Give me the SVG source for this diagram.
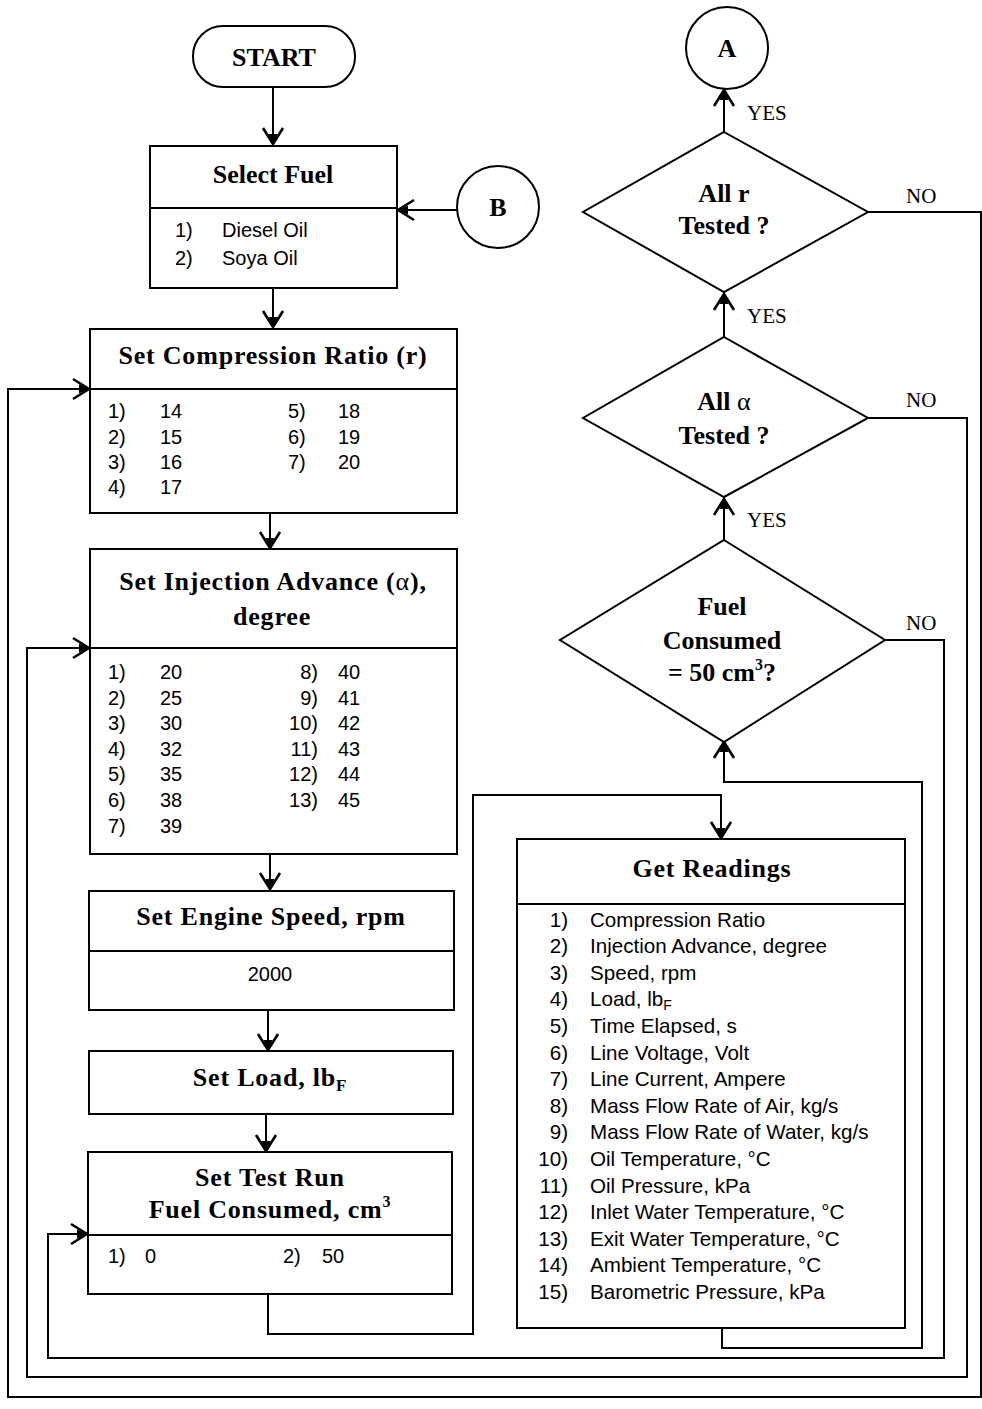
<svg xmlns="http://www.w3.org/2000/svg" width="982" height="1409" viewBox="0 0 982 1409">
<style>
.box{fill:#fff;stroke:#000;stroke-width:2}
.ln{fill:none;stroke:#000;stroke-width:2}
.t{font-family:"Liberation Serif",serif;font-weight:bold;font-size:26px;fill:#000}
.tc{text-anchor:middle}
.i{font-family:"Liberation Sans",sans-serif;font-size:20px;fill:#000}
.gr{font-size:20.6px}
.yn{font-family:"Liberation Serif",serif;font-size:21px;fill:#000}
.e{text-anchor:end}
</style>
<defs>
<marker id="ah" markerUnits="userSpaceOnUse" viewBox="-1 -12 20 24" markerWidth="20" markerHeight="24" refX="17" refY="0" orient="auto">
<path d="M1,-10 L17,0 L1,10" fill="none" stroke="#000" stroke-width="2.6"/>
<path d="M7,-4.5 L17,0 L7,4.5 z" fill="#000"/>
</marker>
</defs>

<g id="connectors">
<path class="ln" d="M273,87 V144" marker-end="url(#ah)"/>
<path class="ln" d="M457,210 H398" marker-end="url(#ah)"/>
<path class="ln" d="M273,288 V327" marker-end="url(#ah)"/>
<path class="ln" d="M270,513 V548" marker-end="url(#ah)"/>
<path class="ln" d="M270,855 V889" marker-end="url(#ah)"/>
<path class="ln" d="M268,1010 V1050" marker-end="url(#ah)"/>
<path class="ln" d="M266,1114 V1151" marker-end="url(#ah)"/>
<path class="ln" d="M268,1294 V1334 H473 V795 H721 V838" marker-end="url(#ah)"/>
<path class="ln" d="M722,1328 V1348 H922 V782 H724 V742" marker-end="url(#ah)"/>
<path class="ln" d="M885,640 H944 V1358 H48 V1234 H87" marker-end="url(#ah)"/>
<path class="ln" d="M868,418 H967 V1377 H27 V648 H89" marker-end="url(#ah)"/>
<path class="ln" d="M868,212 H981 V1397 H8 V389 H89" marker-end="url(#ah)"/>
<path class="ln" d="M724,540 V499" marker-end="url(#ah)"/>
<path class="ln" d="M724,337 V294" marker-end="url(#ah)"/>
<path class="ln" d="M724,132 V90" marker-end="url(#ah)"/>
<text class="yn" x="747" y="120">YES</text>
<text class="yn" x="747" y="323">YES</text>
<text class="yn" x="747" y="527">YES</text>
<text class="yn" x="906" y="203">NO</text>
<text class="yn" x="906" y="407">NO</text>
<text class="yn" x="906" y="630">NO</text>
</g>

<g id="start">
<rect class="box" x="193" y="26" width="162" height="61" rx="30" ry="30"/>
<text class="t tc" x="274" y="66" font-size="28">START</text>
</g>

<g id="select-fuel">
<rect class="box" x="150" y="146" width="247" height="142"/>
<line class="ln" x1="150" y1="208" x2="397" y2="208"/>
<text class="t tc" x="273" y="183">Select Fuel</text>
<text class="i" x="175" y="237">1)</text><text class="i" x="222" y="237">Diesel Oil</text>
<text class="i" x="175" y="265">2)</text><text class="i" x="222" y="265">Soya Oil</text>
</g>

<g id="B">
<circle class="box" cx="498" cy="207" r="41"/>
<text class="t tc" x="498" y="216">B</text>
</g>

<g id="compression-ratio">
<rect class="box" x="90" y="329" width="367" height="184"/>
<line class="ln" x1="90" y1="389" x2="457" y2="389"/>
<text class="t tc" x="273" y="364" letter-spacing="0.8">Set Compression Ratio (r)</text>
<text class="i" x="108" y="418">1)</text><text class="i" x="160" y="418">14</text>
<text class="i" x="108" y="444">2)</text><text class="i" x="160" y="444">15</text>
<text class="i" x="108" y="469">3)</text><text class="i" x="160" y="469">16</text>
<text class="i" x="108" y="494">4)</text><text class="i" x="160" y="494">17</text>
<text class="i" x="288" y="418">5)</text><text class="i" x="338" y="418">18</text>
<text class="i" x="288" y="444">6)</text><text class="i" x="338" y="444">19</text>
<text class="i" x="288" y="469">7)</text><text class="i" x="338" y="469">20</text>
</g>

<g id="injection-advance">
<rect class="box" x="90" y="549" width="367" height="305"/>
<line class="ln" x1="90" y1="648" x2="457" y2="648"/>
<text class="t tc" x="273" y="590" letter-spacing="0.8">Set Injection Advance (<tspan font-weight="normal">α</tspan>),</text>
<text class="t tc" x="272" y="625" letter-spacing="0.8">degree</text>
<text class="i" x="108" y="679">1)</text><text class="i" x="160" y="679">20</text>
<text class="i" x="108" y="705">2)</text><text class="i" x="160" y="705">25</text>
<text class="i" x="108" y="730">3)</text><text class="i" x="160" y="730">30</text>
<text class="i" x="108" y="756">4)</text><text class="i" x="160" y="756">32</text>
<text class="i" x="108" y="781">5)</text><text class="i" x="160" y="781">35</text>
<text class="i" x="108" y="807">6)</text><text class="i" x="160" y="807">38</text>
<text class="i" x="108" y="833">7)</text><text class="i" x="160" y="833">39</text>
<text class="i e" x="318" y="679">8)</text><text class="i" x="338" y="679">40</text>
<text class="i e" x="318" y="705">9)</text><text class="i" x="338" y="705">41</text>
<text class="i e" x="318" y="730">10)</text><text class="i" x="338" y="730">42</text>
<text class="i e" x="318" y="756">11)</text><text class="i" x="338" y="756">43</text>
<text class="i e" x="318" y="781">12)</text><text class="i" x="338" y="781">44</text>
<text class="i e" x="318" y="807">13)</text><text class="i" x="338" y="807">45</text>
</g>

<g id="engine-speed">
<rect class="box" x="89" y="891" width="365" height="119"/>
<line class="ln" x1="89" y1="951" x2="454" y2="951"/>
<text class="t tc" x="271" y="925" letter-spacing="0.8">Set Engine Speed, rpm</text>
<text class="i tc" x="270" y="981">2000</text>
</g>

<g id="set-load">
<rect class="box" x="89" y="1051" width="364" height="63"/>
<text class="t tc" x="270" y="1086" letter-spacing="0.8">Set Load, lb<tspan font-size="17" dy="5">F</tspan></text>
</g>

<g id="test-run">
<rect class="box" x="88" y="1152" width="364" height="142"/>
<line class="ln" x1="88" y1="1235" x2="452" y2="1235"/>
<text class="t tc" x="270" y="1186" letter-spacing="0.8">Set Test Run</text>
<text class="t tc" x="270" y="1218" letter-spacing="0.8">Fuel Consumed, cm<tspan font-size="16" dy="-11">3</tspan></text>
<text class="i" x="108" y="1263">1)</text><text class="i" x="145" y="1263">0</text>
<text class="i" x="283" y="1263">2)</text><text class="i" x="322" y="1263">50</text>
</g>

<g id="get-readings">
<rect class="box" x="517" y="839" width="388" height="489"/>
<line class="ln" x1="517" y1="904" x2="905" y2="904"/>
<text class="t tc" x="712" y="877" letter-spacing="0.8">Get Readings</text>
<g class="i gr">
<text class="e" x="568" y="927">1)</text><text x="590" y="927">Compression Ratio</text>
<text class="e" x="568" y="953">2)</text><text x="590" y="953">Injection Advance, degree</text>
<text class="e" x="568" y="980">3)</text><text x="590" y="980">Speed, rpm</text>
<text class="e" x="568" y="1006">4)</text><text x="590" y="1006">Load, lb<tspan font-size="14" dy="4">F</tspan></text>
<text class="e" x="568" y="1033">5)</text><text x="590" y="1033">Time Elapsed, s</text>
<text class="e" x="568" y="1060">6)</text><text x="590" y="1060">Line Voltage, Volt</text>
<text class="e" x="568" y="1086">7)</text><text x="590" y="1086">Line Current, Ampere</text>
<text class="e" x="568" y="1113">8)</text><text x="590" y="1113">Mass Flow Rate of Air, kg/s</text>
<text class="e" x="568" y="1139">9)</text><text x="590" y="1139">Mass Flow Rate of Water, kg/s</text>
<text class="e" x="568" y="1166">10)</text><text x="590" y="1166">Oil Temperature, °C</text>
<text class="e" x="568" y="1193">11)</text><text x="590" y="1193">Oil Pressure, kPa</text>
<text class="e" x="568" y="1219">12)</text><text x="590" y="1219">Inlet Water Temperature, °C</text>
<text class="e" x="568" y="1246">13)</text><text x="590" y="1246">Exit Water Temperature, °C</text>
<text class="e" x="568" y="1272">14)</text><text x="590" y="1272">Ambient Temperature, °C</text>
<text class="e" x="568" y="1299">15)</text><text x="590" y="1299">Barometric Pressure, kPa</text>
</g>
</g>

<g id="fuel-consumed">
<polygon class="box" points="724,540 885,640 724,742 560,640"/>
<text class="t tc" x="722" y="615">Fuel</text>
<text class="t tc" x="722" y="649">Consumed</text>
<text class="t tc" x="722" y="681">= 50 cm<tspan font-size="16" dy="-11">3</tspan><tspan dy="11">?</tspan></text>
</g>

<g id="all-alpha">
<polygon class="box" points="724,337 868,418 724,497 583,418"/>
<text class="t tc" x="724" y="410">All <tspan font-weight="normal">α</tspan></text>
<text class="t tc" x="724" y="444">Tested ?</text>
</g>

<g id="all-r">
<polygon class="box" points="724,132 868,212 724,292 583,212"/>
<text class="t tc" x="724" y="202">All r</text>
<text class="t tc" x="724" y="234">Tested ?</text>
</g>

<g id="A">
<circle class="box" cx="727" cy="48" r="41"/>
<text class="t tc" x="727" y="57">A</text>
</g>
</svg>
